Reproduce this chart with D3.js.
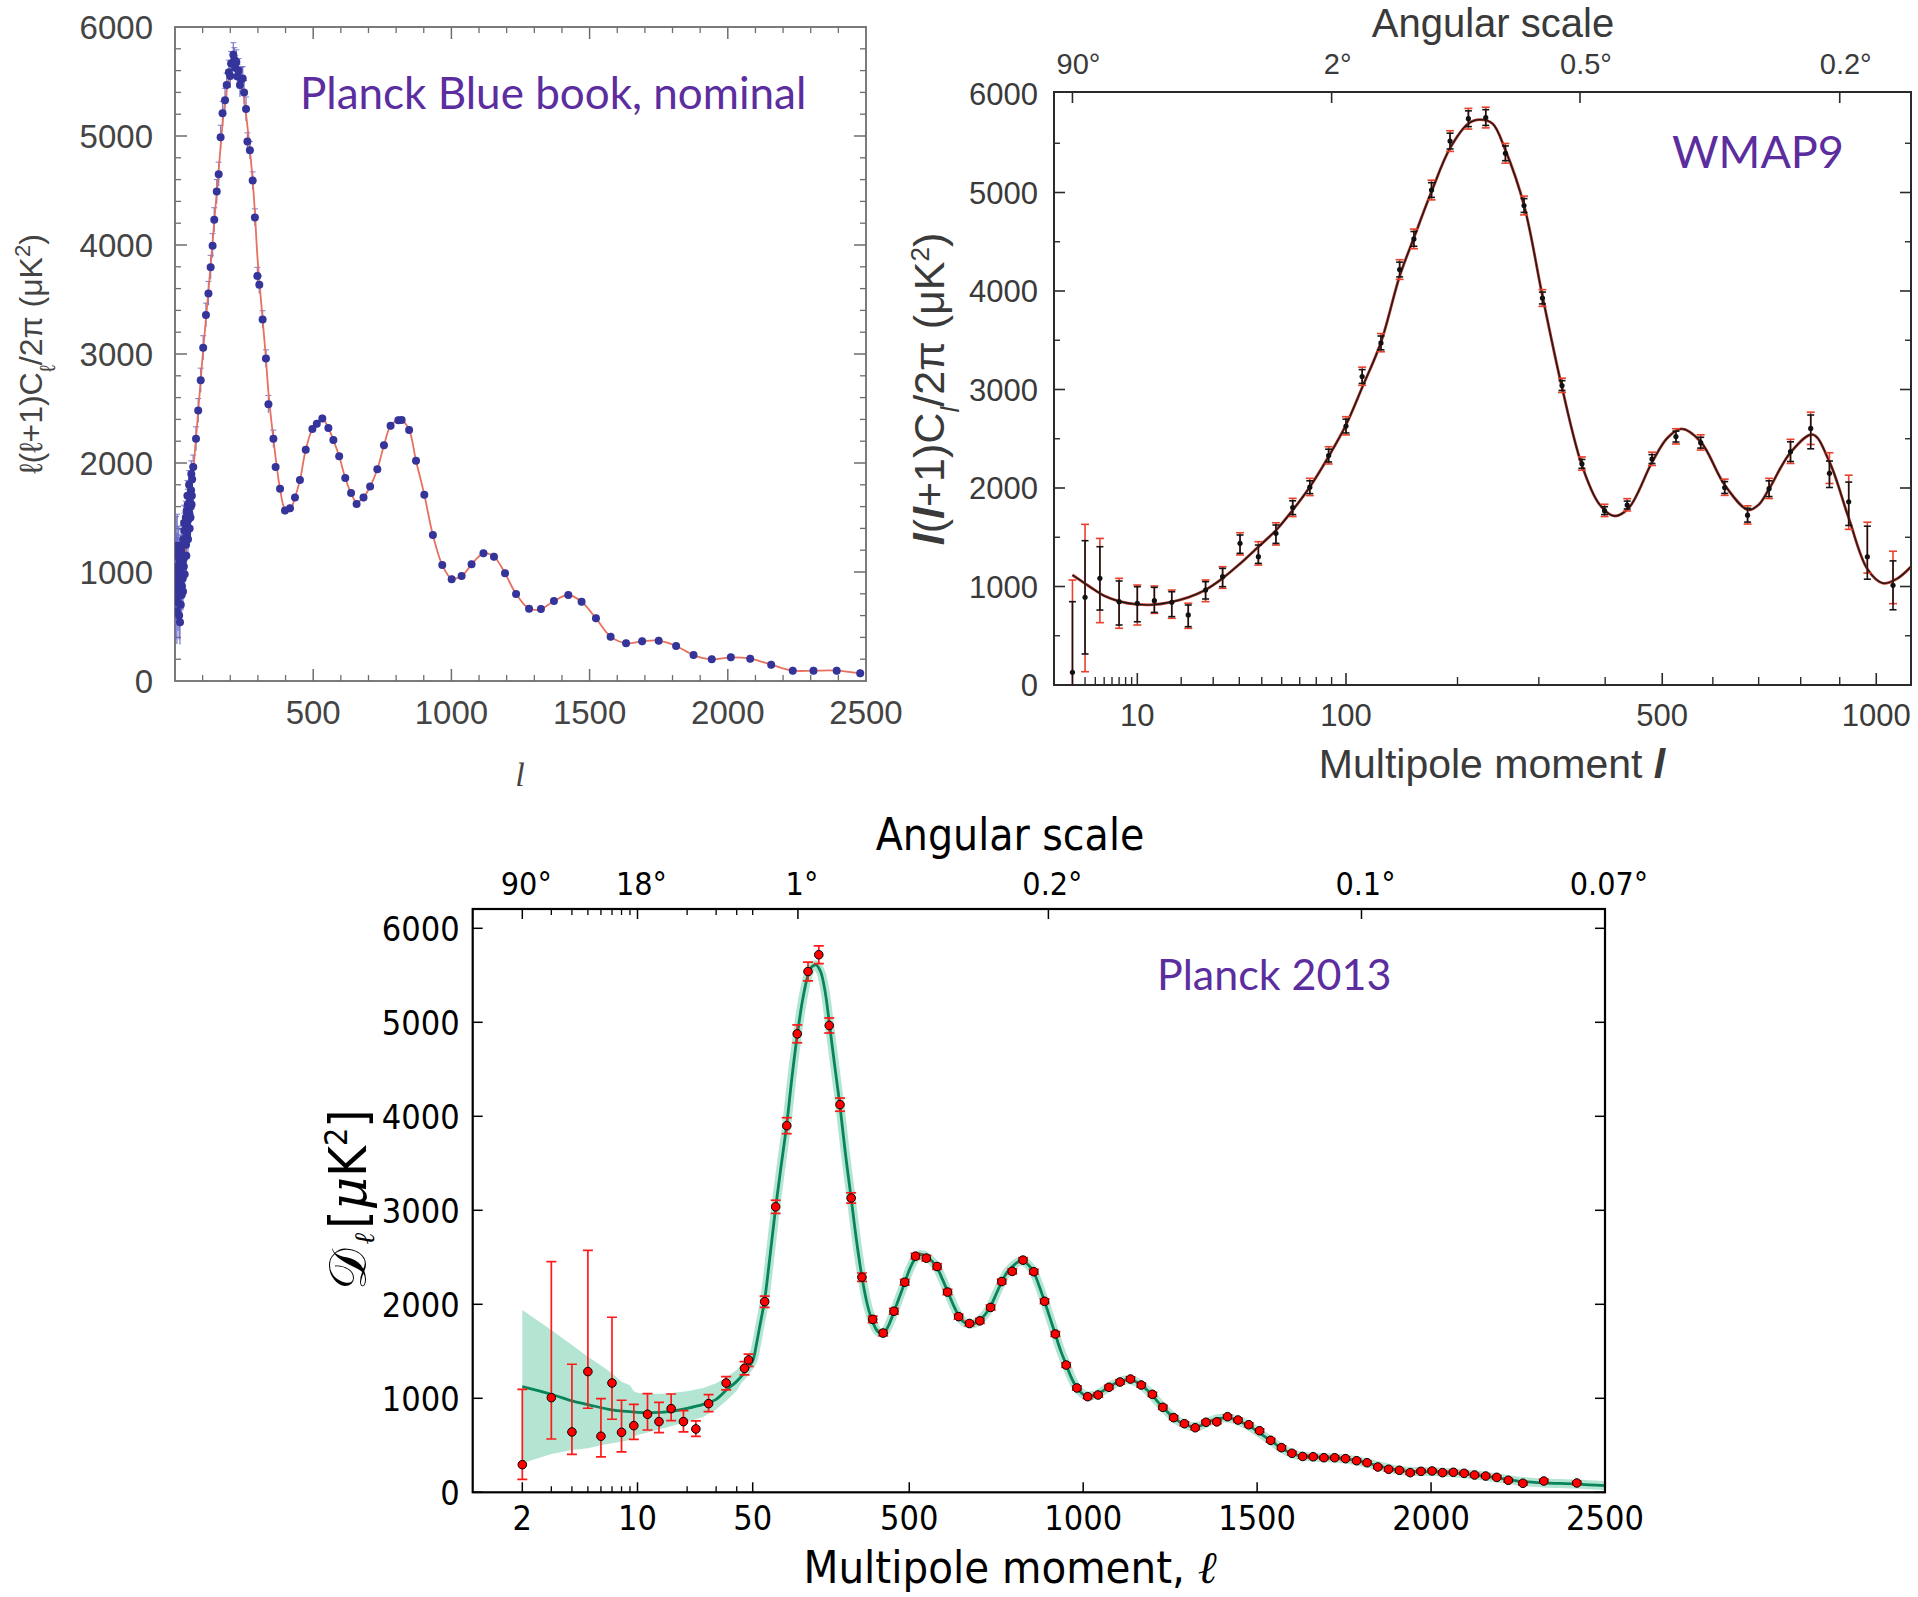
<!DOCTYPE html>
<html><head><meta charset="utf-8">
<script src="https://cdn.jsdelivr.net/npm/d3@7/dist/d3.min.js"></script>
<style>body{margin:0;background:#fff}svg{display:block}</style>
</head><body>
<svg id="c" width="1918" height="1597"></svg>
<script>
// ---------------- DATA ----------------
// Panel 1: Planck Blue book (nominal) simulated spectrum
const bbL = [2,3,4,5,6,7,8,9,10,11,12,13,14,15,16,17,18,19,20,21,22,23,24,25,26,27,28,29,30,31,32,33,34,35,36,37,38,39,40,41,42,43,44,45,46,47,48,49,50,51,52,53,54,55,56,57,58,59,60,61,62,
66,76,84,93,102,112,121,129,136,142,151,158,165,172,181,187,195,200,203,211,215,218,222,226,230,235,240,245,250,257,
262,271,281,289,298,305,317,329,338,356,364,380,398,416,434,452,473,497,513,533,555,573,594,616,637,657,682,706,732,756,
780,808,820,847,872,902,933,967,1001,1037,1073,1116,1154,1194,1234,1281,1324,1371,1423,1471,1523,1576,1632,1690,1750,1813,1876,1942,2011,2081,
2157,2235,2310,2394,2479];
const bbD = [950,760,1150,880,1020,640,1240,830,1050,720,930,1180,860,600,990,1100,540,880,1020,700,1200,1150,790,870,1080,1250,940,820,1300,1120,1050,1450,1380,980,1150,1300,1450,1500,1250,1150,1560,1450,1350,1700,1620,1300,1480,1550,1700,1800,1540,1400,1650,1700,1500,1600,1750,1900,1620,1700,1850,
1963,2222,2481,2760,3058,3357,3556,3795,3994,4232,4491,4650,4989,5208,5327,5467,5586,5550,5666,5746,5700,5626,5680,5547,5600,5467,5520,5527,5400,5248,
4949,4870,4591,4252,3715,3635,3317,2958,2540,2222,1963,1764,1564,1584,1684,1843,2122,2313,2361,2409,2321,2210,2062,1863,1724,1625,1684,1784,1943,2162,
2341,2393,2394,2303,2021,1709,1339,1064,933,963,1070,1171,1141,988,798,663,660,734,789,727,575,407,346,364,370,321,238,199,217,205,
150,95,95,95,70];
const bbErr = [400,380,360,340,320,300,290,280,270,260,250,240,230,220,215,210,205,200,195,192,190,188,185,182,180,178,175,172,170,168,165,162,160,158,155,152,150,150,150,148,145,142,140,140,140,138,135,132,130,130,130,128,125,125,125,122,120,120,120,120,120,
110,110,110,110,110,110,110,110,110,110,110,110,110,110,110,110,110,110,110,110,110,110,110,110,110,110,110,110,110,110,
80,80,80,80,80,80,80,80,80,80,35,35,35,35,35,35,35,35,35,35,35,35,35,35,35,35,35,35,35,35,
35,35,35,35,35,35,35,35,35,35,35,35,35,35,35,35,35,35,35,35,35,35,35,35,35,35,35,35,35,35,
35,35,35,35,35];
const bbModelL = [2,20,40,60,80,100,120,140,160,180,200,215,230,245,257,271,281,289,298,317,329,338,356,380,398,416,434,452,473,497,513,533,555,573,594,616,637,657,682,706,732,756,780,808,820,847,872,902,933,967,1001,1037,1073,1116,1154,1194,1234,1281,1324,1371,1423,1471,1523,1576,1632,1690,1750,1813,1876,1942,2011,2081,2157,2235,2310,2394,2479];
const bbModelD = [1000,950,1250,1750,2350,2980,3550,4150,4750,5300,5580,5650,5560,5420,5200,4870,4591,4300,3900,3317,2958,2650,2222,1764,1580,1570,1684,1843,2122,2313,2361,2409,2321,2210,2062,1863,1724,1640,1684,1784,1943,2162,2341,2393,2394,2303,2021,1709,1339,1064,940,963,1070,1171,1141,988,798,663,660,734,789,727,575,407,346,364,370,321,238,199,217,205,150,95,95,95,70];

// Panel 2: WMAP9
const wmapL = [2,3,4.5,7,10,13.4,17.5,22,27.4,33.4,40.3,48.4,57,66,76,88,100,112,127,143,156,173,192,212,232,256,280,305,333,363,399,437,481,526,575,625,675,724,775,825,873,924,975,1048];
const wmapD = [129,890,1083,846,829,856,839,711,964,1100,1438,1303,1540,1800,2008,2329,2629,3132,3473,4218,4529,5025,5522,5749,5761,5398,4868,3929,3040,2245,1770,1827,2294,2522,2460,2005,1724,1993,2369,2605,2150,1860,1302,1012];
const wmapLo = [0,315,761,609,642,737,694,592,873,998,1337,1235,1438,1730,1943,2264,2559,3062,3403,4143,4454,4950,5442,5669,5681,5323,4798,3869,2990,2200,1730,1787,2249,2467,2405,1945,1654,1913,2269,2398,2005,1620,1074,764];
const wmapHi = [846,1465,1404,1056,998,991,947,812,1049,1184,1523,1421,1624,1870,2073,2394,2699,3202,3543,4293,4604,5100,5602,5829,5841,5473,4938,3989,3090,2290,1810,1867,2339,2577,2515,2065,1794,2073,2469,2741,2274,2060,1612,1260];
const wmapRedLo = [0,135,633,576,609,727,677,575,846,981,1320,1218,1421,1710,1923,2244,2539,3042,3383,4118,4429,4925,5417,5644,5656,5298,4773,3844,2970,2180,1710,1767,2229,2447,2385,1925,1634,1893,2249,2442,2046,1580,1136,826];
const wmapRedHi = [1066,1631,1488,1083,1015,1005,964,830,1066,1201,1546,1455,1647,1895,2098,2419,2724,3227,3568,4318,4629,5125,5627,5854,5866,5498,4963,4014,3115,2315,1835,1892,2364,2602,2540,2090,1819,2098,2494,2770,2358,2130,1653,1358];
const wmapModelL = [2,3,4,5,7,10,13,17,22,27,33,40,48,57,66,76,88,100,112,127,143,156,173,192,212,225,240,256,280,305,333,363,390,415,440,481,510,537,575,625,676,700,724,775,830,873,924,975,1019,1060,1100];
const wmapModelD = [1117,1030,960,905,850,818,815,840,890,960,1075,1225,1395,1570,1775,2010,2320,2640,3020,3480,4150,4540,5010,5450,5700,5740,5700,5430,4870,3950,3020,2230,1840,1716,1800,2260,2510,2600,2470,2030,1778,1830,1990,2360,2542,2265,1695,1178,1033,1080,1198];

// Panel 3: Planck 2013
const p13L = [2,3,4,5,6,7,8,9.5,11.5,13.5,16,19,22.6,27,34.5,44.6,47.2,
84.5,116,148,178,209,240,270,301,333,364,395,425,456,487,518,549,580,610,642,673,703,734,766,796,827,858,889,920,951,982,
1013,1043,1074,1106,1136,1167,1199,1229,1260,1291,1322,1353,1384,1415,1445,1476,1507,1539,1570,1600,1631,1661,1692,1723,1754,1786,1816,1847,1878,1909,
1940,1971,2003,2033,2064,2095,2125,2157,2189,2222,2264,2324,2419];
const p13D = [294,1007,642,1284,596,1163,638,709,830,752,890,752,674,943,1163,1319,1408,
2028,3037,3900,4877,5540,5719,4966,4124,3131,2288,1840,1694,1926,2235,2512,2491,2402,2130,1869,1796,1824,1967,2242,2350,2470,2347,2032,1684,1354,1110,
1017,1035,1117,1173,1205,1141,1042,904,794,730,687,745,749,804,769,719,655,553,475,415,381,378,368,368,358,336,315,269,245,234,
209,223,227,209,213,202,184,173,159,128,96,120,99];
const p13ErrMinus = [156,440,238,390,220,386,209,145,167,117,128,110,78,85,74,69,68,
60,70,85,95,100,95,80,70,55,45,35,30,30,30,30,30,30,28,28,26,26,26,26,26,26,26,25,25,24,23,
22,22,22,22,22,22,22,21,21,20,20,20,20,20,20,20,19,19,18,18,18,18,18,18,18,18,18,18,18,18,
18,18,18,18,18,18,18,18,18,18,18,18,18];
const p13ErrPlus = [802,1447,720,1290,400,699,341,227,220,205,156,117,85,96,67,71,62,
60,70,85,95,100,95,80,70,55,45,35,30,30,30,30,30,30,28,28,26,26,26,26,26,26,26,25,25,24,23,
22,22,22,22,22,22,22,21,21,20,20,20,20,20,20,20,19,19,18,18,18,18,18,18,18,18,18,18,18,18,
18,18,18,18,18,18,18,18,18,18,18,18,18];
const p13ModelL = [2,3,4,5,7,10,12,15,20,25,30,35,40,45,50,60,70,84,100,116,132,148,163,178,194,209,220,232,245,258,270,285,301,316,333,348,364,380,395,410,425,440,456,471,487,503,518,534,549,565,580,595,610,626,642,657,672,687,702,718,734,750,766,781,796,812,827,842,858,873,889,905,920,935,951,966,982,997,1013,1028,1044,1059,1074,1090,1106,1121,1136,1152,1167,1183,1198,1214,1229,1245,1260,1275,1291,1306,1322,1338,1353,1368,1384,1399,1415,1430,1445,1460,1476,1491,1507,1522,1539,1554,1570,1585,1600,1615,1631,1661,1692,1723,1754,1786,1816,1847,1878,1908,1940,1971,2002,2033,2064,2095,2125,2157,2188,2222,2264,2323,2419,2500];
const p13ModelD = [1124,1043,972,933,876,851,848,855,894,936,989,1096,1180,1280,1400,1560,1760,2040,2520,3030,3480,3920,4420,4860,5250,5500,5590,5610,5540,5330,5000,4560,4110,3620,3130,2690,2290,1990,1810,1710,1690,1770,1920,2070,2230,2390,2490,2530,2510,2460,2390,2270,2140,2000,1880,1810,1790,1795,1830,1890,1980,2110,2240,2340,2400,2450,2460,2420,2340,2200,2030,1850,1680,1510,1360,1220,1110,1050,1025,1030,1050,1085,1120,1155,1180,1195,1195,1175,1140,1090,1035,965,905,845,795,755,725,705,700,710,735,760,780,790,790,780,762,738,708,672,632,592,550,510,470,438,412,395,385,376,370,365,355,336,312,283,255,236,224,221,220,214,207,198,186,171,154,135,114,100,88,70];
const bandL  = [2,3,4,5,6,7,8,9,9.5,10,12,15,20,25,30,35,40,45,50];
const bandHi = [1940,1727,1567,1443,1350,1266,1177,1140,1075,1060,1046,1050,1075,1110,1160,1230,1300,1408,1550];
const bandLo = [309,408,450,468,500,521,539,560,592,610,645,690,750,800,880,982,1080,1230,1372];

// tick labels
const yTickVals = [0,1000,2000,3000,4000,5000,6000];
const p1XLabels = [500,1000,1500,2000,2500];
const wmapXLabels = [10,100,500,1000];
const wmapTopL = [2,90,360,900];
const wmapTopLabels = ["90°","2°","0.5°","0.2°"];
const p13XLabels = [2,10,50,500,1000,1500,2000,2500];
const p13TopL = [2,10,180,900,1800,2500];
const p13TopLabels = ["90°","18°","1°","0.2°","0.1°","0.07°"];

// ---------------- DRAW ----------------
const svg = d3.select('#c');
const defs = svg.append('defs');
const purple = '#5b2d9e';

function vTicks(g, xs, y0, len, stroke, sw){
  g.append('g').selectAll('line').data(xs).join('line')
   .attr('x1',d=>d).attr('x2',d=>d).attr('y1',y0).attr('y2',y0+len)
   .attr('stroke',stroke).attr('stroke-width',sw);
}
function hTicks(g, ys, x0, len, stroke, sw){
  g.append('g').selectAll('line').data(ys).join('line')
   .attr('y1',d=>d).attr('y2',d=>d).attr('x1',x0).attr('x2',x0+len)
   .attr('stroke',stroke).attr('stroke-width',sw);
}
function clip(id, P){
  defs.append('clipPath').attr('id',id).append('rect')
    .attr('x',P.left).attr('y',P.top).attr('width',P.right-P.left).attr('height',P.bottom-P.top);
}

// ===== Panel 1 =====
{
  const P = {left:175,right:866,top:27,bottom:681};
  clip('cp1',P);
  const x = d3.scaleLinear().domain([0,2500]).range([P.left,P.right]);
  const y = d3.scaleLinear().domain([0,6000]).range([P.bottom,P.top]);
  const g = svg.append('g');
  const col = '#6d6d6d';
  const xsMinor = d3.range(100,2500,100).filter(v=>v%500);
  const xsMajor = d3.range(500,2500,500);
  vTicks(g, xsMinor.map(x), P.bottom, -6, col, 1.3);
  vTicks(g, xsMajor.map(x), P.bottom, -12, col, 1.5);
  vTicks(g, xsMinor.map(x), P.top, 6, col, 1.3);
  vTicks(g, xsMajor.map(x), P.top, 12, col, 1.5);
  const ysMinor = d3.range(200,6000,200).filter(v=>v%1000);
  const ysMajor = d3.range(1000,6000,1000);
  hTicks(g, ysMinor.map(y), P.left, 6, col, 1.3);
  hTicks(g, ysMajor.map(y), P.left, 12, col, 1.5);
  hTicks(g, ysMinor.map(y), P.right, -6, col, 1.3);
  hTicks(g, ysMajor.map(y), P.right, -12, col, 1.5);
  g.append('rect').attr('x',P.left).attr('y',P.top).attr('width',P.right-P.left).attr('height',P.bottom-P.top)
    .attr('fill','none').attr('stroke',col).attr('stroke-width',1.8);

  const pg = g.append('g').attr('clip-path','url(#cp1)');
  const line = d3.line().x((d,i)=>x(bbModelL[i])).y(d=>y(d)).curve(d3.curveCatmullRom);
  const pts = bbL.map((l,i)=>({l, d:bbD[i], e:bbErr[i]}));
  pg.append('g').selectAll('line').data(pts).join('line')
    .attr('x1',d=>x(d.l)).attr('x2',d=>x(d.l)).attr('y1',d=>y(d.d-d.e)).attr('y2',d=>y(d.d+d.e))
    .attr('stroke','#6a6ac8').attr('stroke-width',1.3).attr('opacity',0.85);
  pg.append('g').selectAll('line').data(pts.filter(d=>d.e>60)).join('line')
    .attr('x1',d=>x(d.l)-3).attr('x2',d=>x(d.l)+3).attr('y1',d=>y(d.d+d.e)).attr('y2',d=>y(d.d+d.e))
    .attr('stroke','#6a6ac8').attr('stroke-width',1).attr('opacity',0.85);
  pg.append('path').attr('d',line(bbModelD)).attr('fill','none').attr('stroke','#e8705f').attr('stroke-width',1.8);
  pg.append('g').selectAll('circle').data(pts).join('circle')
    .attr('cx',d=>x(d.l)).attr('cy',d=>y(d.d)).attr('r',4).attr('fill','#34349a');

  const tf = 'Liberation Sans, Arial, sans-serif';
  g.append('g').selectAll('text').data(yTickVals).join('text')
    .attr('x',P.left-22).attr('y',d=>y(d)).attr('dy','0.36em').attr('text-anchor','end')
    .attr('font-family',tf).attr('font-size',33).attr('fill','#444').text(d=>d);
  g.append('g').selectAll('text').data(p1XLabels).join('text')
    .attr('x',d=>x(d)).attr('y',P.bottom+43).attr('text-anchor','middle')
    .attr('font-family',tf).attr('font-size',33).attr('fill','#444').text(d=>d);
  g.append('text').attr('x',520).attr('y',786).attr('text-anchor','middle')
    .attr('font-family','Liberation Serif, serif').attr('font-style','italic').attr('font-size',34).attr('fill','#444').text('l');
  const yl = g.append('text').attr('transform',`translate(42,${(P.top+P.bottom)/2}) rotate(-90)`).attr('text-anchor','middle')
    .attr('font-family',tf).attr('font-size',32).attr('fill','#444');
  yl.append('tspan').text('ℓ(ℓ+1)C');
  yl.append('tspan').attr('baseline-shift','sub').attr('font-size',22).text('ℓ');
  yl.append('tspan').text('/2π  (μK');
  yl.append('tspan').attr('baseline-shift','super').attr('font-size',22).text('2');
  yl.append('tspan').text(')');
  g.append('text').attr('x',300).attr('y',109).attr('font-family','Lato, sans-serif').attr('font-size',44)
    .attr('fill',purple).text('Planck Blue book, nominal');
}

// ===== Panel 2 (WMAP9) =====
{
  const P = {left:1054,right:1911,top:92,bottom:685};
  clip('cp2',P);
  const x = d3.scalePow().exponent(0.405).domain([0.946,1101]).range([P.left,P.right]);
  const y = d3.scaleLinear().domain([0,6000]).range([P.bottom,94]);
  const g = svg.append('g');
  const col = '#2a2a2a';
  const minorX = [3,4,5,6,7,8,9,20,30,40,50,60,70,80,90,200,300,400,600,700,800,900];
  const majorX = [10,100,500,1000];
  vTicks(g, minorX.map(x), P.bottom, -8, col, 1.4);
  vTicks(g, majorX.map(x), P.bottom, -12, col, 1.6);
  vTicks(g, wmapTopL.map(x), P.top, 11, col, 1.6);
  const ysMinor = d3.range(500,6000,1000);
  const ysMajor = d3.range(1000,6000,1000);
  hTicks(g, ysMinor.map(y), P.left, 6, col, 1.4);
  hTicks(g, ysMajor.map(y), P.left, 11, col, 1.6);
  hTicks(g, ysMinor.map(y), P.right, -6, col, 1.4);
  hTicks(g, ysMajor.map(y), P.right, -11, col, 1.6);
  g.append('rect').attr('x',P.left).attr('y',P.top).attr('width',P.right-P.left).attr('height',P.bottom-P.top)
    .attr('fill','none').attr('stroke',col).attr('stroke-width',2);

  const pg = g.append('g').attr('clip-path','url(#cp2)');
  const line = d3.line().x((d,i)=>x(wmapModelL[i])).y(d=>y(d)).curve(d3.curveCatmullRom);
  pg.append('path').attr('d',line(wmapModelD)).attr('fill','none').attr('stroke','#c0392b').attr('stroke-width',2.8);
  pg.append('path').attr('d',line(wmapModelD)).attr('fill','none').attr('stroke','#1a1a1a').attr('stroke-width',1.4);
  const pts = wmapL.map((l,i)=>({l,d:wmapD[i],lo:wmapLo[i],hi:wmapHi[i],rlo:wmapRedLo[i],rhi:wmapRedHi[i]}));
  function bars(key1,key2,stroke,cap){
    const b = pg.append('g').attr('stroke',stroke).attr('stroke-width',1.6);
    b.selectAll('.v').data(pts).join('line').attr('x1',d=>x(d.l)).attr('x2',d=>x(d.l))
      .attr('y1',d=>y(d[key1])).attr('y2',d=>y(d[key2]));
    b.selectAll('.t').data(pts).join('line').attr('x1',d=>x(d.l)-cap).attr('x2',d=>x(d.l)+cap)
      .attr('y1',d=>y(d[key2])).attr('y2',d=>y(d[key2]));
    b.selectAll('.b').data(pts.filter(d=>d[key1]>0)).join('line').attr('x1',d=>x(d.l)-cap).attr('x2',d=>x(d.l)+cap)
      .attr('y1',d=>y(d[key1])).attr('y2',d=>y(d[key1]));
  }
  bars('rlo','rhi','#e8412c',4);
  bars('lo','hi','#151515',3.5);
  pg.append('g').selectAll('circle').data(pts).join('circle')
    .attr('cx',d=>x(d.l)).attr('cy',d=>y(d.d)).attr('r',2.6).attr('fill','#111');

  const tf = 'Liberation Sans, Arial, sans-serif';
  g.append('g').selectAll('text').data(yTickVals).join('text')
    .attr('x',P.left-16).attr('y',d=>y(d)).attr('dy','0.36em').attr('text-anchor','end')
    .attr('font-family',tf).attr('font-size',31).attr('fill','#3a3a3a').text(d=>d);
  g.append('g').selectAll('text').data(wmapXLabels).join('text')
    .attr('x',d=>x(d)).attr('y',P.bottom+41).attr('text-anchor','middle')
    .attr('font-family',tf).attr('font-size',31).attr('fill','#3a3a3a').text(d=>d);
  g.append('g').selectAll('text').data(wmapTopL).join('text')
    .attr('x',d=>x(d)+6).attr('y',P.top-18).attr('text-anchor','middle')
    .attr('font-family',tf).attr('font-size',29).attr('fill','#3a3a3a').text((d,i)=>wmapTopLabels[i]);
  g.append('text').attr('x',1493).attr('y',37).attr('text-anchor','middle')
    .attr('font-family',tf).attr('font-size',40).attr('fill','#3a3a3a').text('Angular scale');
  const xl = g.append('text').attr('x',1492).attr('y',778).attr('text-anchor','middle')
    .attr('font-family',tf).attr('font-size',41).attr('fill','#3a3a3a');
  xl.append('tspan').text('Multipole moment  ');
  xl.append('tspan').attr('font-style','italic').attr('font-weight','bold').text('l');
  const yl = g.append('text').attr('transform',`translate(944,389) rotate(-90)`).attr('text-anchor','middle')
    .attr('font-family',tf).attr('font-size',43).attr('fill','#3a3a3a');
  yl.append('tspan').attr('font-style','italic').attr('font-weight','bold').text('l');
  yl.append('tspan').text('(');
  yl.append('tspan').attr('font-style','italic').attr('font-weight','bold').text('l');
  yl.append('tspan').text('+1)C');
  yl.append('tspan').attr('baseline-shift','sub').attr('font-size',26).attr('font-style','italic').text('l');
  yl.append('tspan').text('/2π (μK');
  yl.append('tspan').attr('baseline-shift','super').attr('font-size',26).text('2');
  yl.append('tspan').text(')');
  g.append('text').attr('x',1672).attr('y',168).attr('font-family','Lato, sans-serif').attr('font-size',45)
    .attr('fill',purple).text('WMAP9');
}

// ===== Panel 3 (Planck 2013) =====
{
  const P = {left:472.7,right:1605,top:909,bottom:1492.3};
  clip('cp3',P);
  const xBreak = 752.7;
  const xlog = d3.scaleLog().domain([1,50]).range([P.left,xBreak]);
  const xlin = d3.scaleLinear().domain([50,2500]).range([xBreak,P.right]);
  const x = l => l <= 50 ? xlog(l) : xlin(l);
  const y = d3.scaleLinear().domain([0,6000]).range([P.bottom,928.3]);
  const g = svg.append('g');
  const col = '#000';
  const minorX = [3,4,5,6,7,8,9,20,30,40];
  vTicks(g, minorX.map(x), P.bottom, -6, col, 1.3);
  vTicks(g, p13XLabels.map(x), P.bottom, -10, col, 1.5);
  vTicks(g, minorX.concat([50]).map(x), P.top, 6, col, 1.3);
  vTicks(g, p13TopL.map(x), P.top, 10, col, 1.5);
  hTicks(g, yTickVals.map(y), P.left, 10, col, 1.5);
  hTicks(g, yTickVals.map(y), P.right, -10, col, 1.5);

  const pg = g.append('g').attr('clip-path','url(#cp3)');
  const band = d3.area().x((d,i)=>x(bandL[i])).y0((d,i)=>y(bandLo[i])).y1(d=>y(d)).curve(d3.curveLinear);
  pg.append('path').attr('d',band(bandHi)).attr('fill','#b4e5d2');
  const line = d3.line().x((d,i)=>x(p13ModelL[i])).y(d=>y(d)).curve(d3.curveCatmullRom);
  pg.append('path').attr('d',line(p13ModelD)).attr('fill','none').attr('stroke','#b4e5d2').attr('stroke-width',9).attr('stroke-linejoin','round');
  pg.append('path').attr('d',line(p13ModelD)).attr('fill','none').attr('stroke','#07845a').attr('stroke-width',2.8);
  const pts = p13L.map((l,i)=>({l,d:p13D[i],lo:p13D[i]-p13ErrMinus[i],hi:p13D[i]+p13ErrPlus[i]}));
  const b = pg.append('g').attr('stroke','#ff1a1a').attr('stroke-width',1.7);
  b.selectAll('.v').data(pts).join('line').attr('x1',d=>x(d.l)).attr('x2',d=>x(d.l)).attr('y1',d=>y(d.lo)).attr('y2',d=>y(d.hi));
  b.selectAll('.t').data(pts).join('line').attr('x1',d=>x(d.l)-5).attr('x2',d=>x(d.l)+5).attr('y1',d=>y(d.hi)).attr('y2',d=>y(d.hi));
  b.selectAll('.b').data(pts).join('line').attr('x1',d=>x(d.l)-5).attr('x2',d=>x(d.l)+5).attr('y1',d=>y(d.lo)).attr('y2',d=>y(d.lo));
  pg.append('g').selectAll('circle').data(pts).join('circle')
    .attr('cx',d=>x(d.l)).attr('cy',d=>y(d.d)).attr('r',4.3).attr('fill','#ff0000').attr('stroke','#000').attr('stroke-width',1);

  g.append('rect').attr('x',P.left).attr('y',P.top).attr('width',P.right-P.left).attr('height',P.bottom-P.top)
    .attr('fill','none').attr('stroke',col).attr('stroke-width',2.2);

  const tf = 'Liberation Sans Narrow, DejaVu Sans Condensed, Arial Narrow, sans-serif';
  g.append('g').selectAll('text').data(yTickVals).join('text')
    .attr('x',P.left-13).attr('y',d=>y(d)).attr('dy','0.36em').attr('text-anchor','end')
    .attr('font-family',tf).attr('font-stretch','condensed').attr('font-size',34).attr('fill','#000').text(d=>d);
  g.append('g').selectAll('text').data(p13XLabels).join('text')
    .attr('x',d=>x(d)).attr('y',P.bottom+38).attr('text-anchor','middle')
    .attr('font-family',tf).attr('font-stretch','condensed').attr('font-size',34).attr('fill','#000').text(d=>d);
  g.append('g').selectAll('text').data(p13TopL).join('text')
    .attr('x',d=>x(d)+4).attr('y',P.top-14).attr('text-anchor','middle')
    .attr('font-family',tf).attr('font-stretch','condensed').attr('font-size',32).attr('fill','#000').text((d,i)=>p13TopLabels[i]);
  g.append('text').attr('x',1010).attr('y',850).attr('text-anchor','middle')
    .attr('font-family',tf).attr('font-stretch','condensed').attr('font-size',44).attr('fill','#000').text('Angular scale');
  const xl = g.append('text').attr('x',1010).attr('y',1583).attr('text-anchor','middle')
    .attr('font-family',tf).attr('font-stretch','condensed').attr('font-size',45).attr('fill','#000');
  xl.append('tspan').text('Multipole moment,  ');
  xl.append('tspan').attr('font-family','DejaVu Serif, serif').attr('font-style','italic').text('ℓ');
  const yl = g.append('text').attr('transform',`translate(366,1200) rotate(-90)`).attr('text-anchor','middle')
    .attr('font-family','DejaVu Serif, Liberation Serif, serif').attr('font-size',52).attr('fill','#000');
  yl.append('tspan').text('𝒟');
  yl.append('tspan').attr('dx',4).attr('baseline-shift','-8').attr('font-size',28).attr('font-style','italic').text('ℓ');
  yl.append('tspan').attr('dx',4).attr('font-family',tf).text('[');
  yl.append('tspan').attr('font-style','italic').text('μ');
  yl.append('tspan').attr('font-family',tf).text('K');
  yl.append('tspan').attr('baseline-shift','super').attr('font-size',32).attr('font-family',tf).text('2');
  yl.append('tspan').attr('font-family',tf).text(']');
  g.append('text').attr('x',1157).attr('y',990).attr('font-family','Lato, sans-serif').attr('font-size',43)
    .attr('fill',purple).text('Planck 2013');
}
</script>
</body></html>
